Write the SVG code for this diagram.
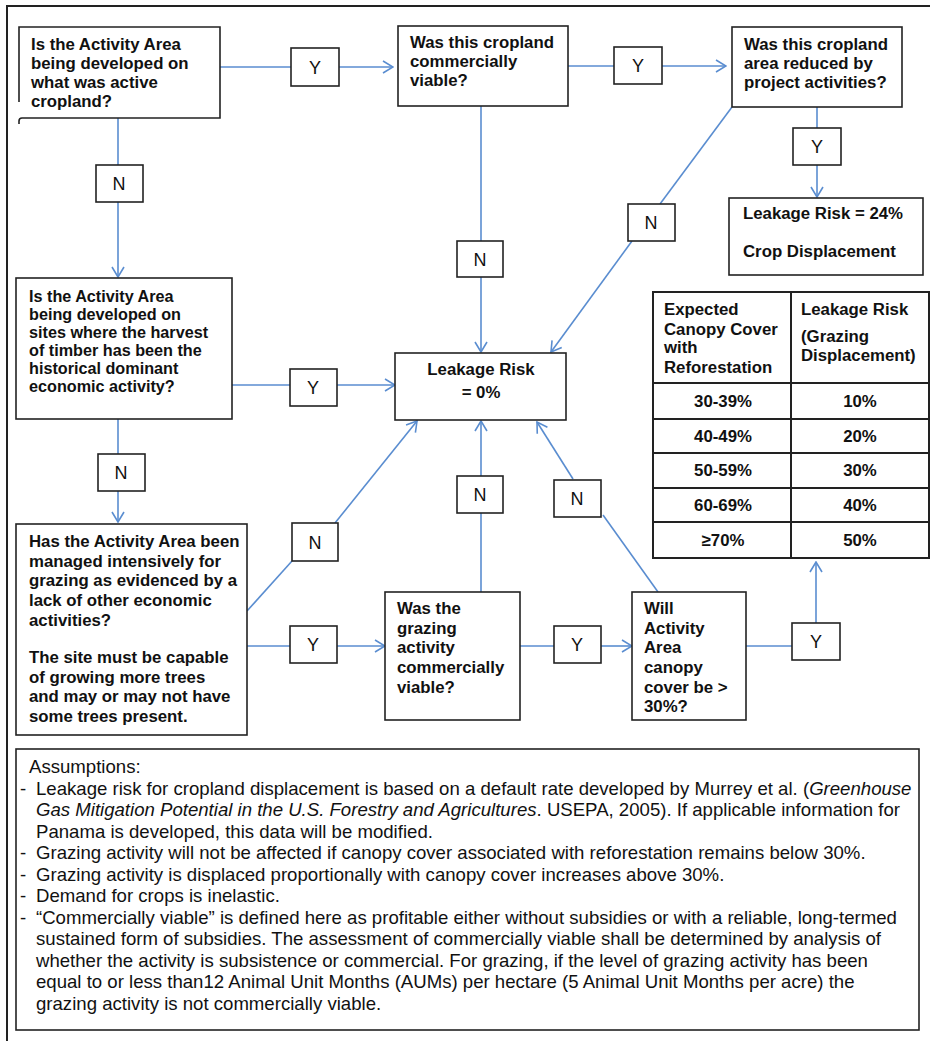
<svg xmlns="http://www.w3.org/2000/svg" width="930" height="1041" viewBox="0 0 930 1041">
<defs>
<style>
.box{fill:#fff;stroke:#222;stroke-width:1.6}
.lbl{fill:#fff;stroke:#222;stroke-width:1.6}
.t{font-family:"Liberation Sans",Arial,sans-serif;font-weight:bold;font-size:16.8px;fill:#111}
.t16{font-family:"Liberation Sans",Arial,sans-serif;font-weight:bold;font-size:16.2px;fill:#111}
.yn{font-family:"Liberation Sans",Arial,sans-serif;font-size:18px;fill:#111;text-anchor:middle}
.c{fill:none;stroke:#5a8dd0;stroke-width:1.6}
.a{font-family:"Liberation Sans",Arial,sans-serif;font-size:18.6px;fill:#111}
.tb{fill:none;stroke:#222;stroke-width:2}
.mid{text-anchor:middle}
</style>
<marker id="arr" viewBox="0 0 12 14" refX="11" refY="7" markerWidth="12" markerHeight="14" markerUnits="userSpaceOnUse" orient="auto">
<path d="M1,1 L11,7 L1,13" fill="none" stroke="#5a8dd0" stroke-width="1.6"/>
</marker>
</defs>
<rect width="930" height="1041" fill="#fff"/>
<path d="M7,1041 V6 H930" fill="none" stroke="#222" stroke-width="2"/>

<g id="connectors">
<line class="c" x1="220" y1="67" x2="291" y2="67"/>
<line class="c" x1="339" y1="67" x2="393" y2="67" marker-end="url(#arr)"/>
<line class="c" x1="568" y1="66" x2="614" y2="66"/>
<line class="c" x1="662" y1="66" x2="726" y2="66" marker-end="url(#arr)"/>
<line class="c" x1="817" y1="107" x2="817" y2="128"/>
<line class="c" x1="817" y1="165" x2="817" y2="197" marker-end="url(#arr)"/>
<line class="c" x1="481" y1="106" x2="481" y2="241"/>
<line class="c" x1="481" y1="277" x2="481" y2="352" marker-end="url(#arr)"/>
<line class="c" x1="732" y1="107" x2="660" y2="204"/>
<line class="c" x1="632" y1="241" x2="551" y2="352" marker-end="url(#arr)"/>
<line class="c" x1="118" y1="118" x2="118" y2="165"/>
<line class="c" x1="118" y1="202" x2="118" y2="277" marker-end="url(#arr)"/>
<line class="c" x1="232" y1="385" x2="290" y2="385"/>
<line class="c" x1="337" y1="385" x2="395" y2="385" marker-end="url(#arr)"/>
<line class="c" x1="118" y1="419" x2="118" y2="454"/>
<line class="c" x1="118" y1="491" x2="118" y2="522" marker-end="url(#arr)"/>
<line class="c" x1="247" y1="611" x2="292" y2="561"/>
<line class="c" x1="335" y1="523" x2="417" y2="421" marker-end="url(#arr)"/>
<line class="c" x1="247" y1="646" x2="290" y2="646"/>
<line class="c" x1="337" y1="646" x2="385" y2="646" marker-end="url(#arr)"/>
<line class="c" x1="481" y1="592" x2="481" y2="513"/>
<line class="c" x1="481" y1="476" x2="481" y2="421" marker-end="url(#arr)"/>
<line class="c" x1="520" y1="646" x2="554" y2="646"/>
<line class="c" x1="601" y1="646" x2="632" y2="646" marker-end="url(#arr)"/>
<line class="c" x1="658" y1="592" x2="603" y2="515"/>
<line class="c" x1="573" y1="479" x2="537" y2="422" marker-end="url(#arr)"/>
<line class="c" x1="746" y1="646" x2="792" y2="646"/>
<line class="c" x1="816" y1="623" x2="816" y2="562" marker-end="url(#arr)"/>
</g>

<g id="q1">
<path d="M19,102 V27 H220 V118 H22 Q19,118 19,121 V124" fill="#fff" stroke="#222" stroke-width="1.6"/>
<text class="t" x="31" y="50">Is the Activity Area</text>
<text class="t" x="31" y="69">being developed on</text>
<text class="t" x="31" y="88">what was active</text>
<text class="t" x="31" y="107">cropland?</text>
</g>
<g id="q2">
<rect class="box" x="398" y="26" width="170" height="80"/>
<text class="t" x="410" y="48">Was this cropland</text>
<text class="t" x="410" y="67">commercially</text>
<text class="t" x="410" y="86">viable?</text>
</g>
<g id="q3">
<rect class="box" x="732" y="27" width="170" height="80"/>
<text class="t" x="744" y="50">Was this cropland</text>
<text class="t" x="744" y="69">area reduced by</text>
<text class="t" x="744" y="88">project activities?</text>
</g>
<g id="r24">
<rect class="box" x="729" y="198" width="194" height="77"/>
<text class="t" x="743" y="219">Leakage Risk = 24%</text>
<text class="t" x="743" y="257">Crop Displacement</text>
</g>
<g id="r0">
<rect class="box" x="395" y="353" width="171" height="67"/>
<text class="t mid" x="481" y="375">Leakage Risk</text>
<text class="t mid" x="481" y="398">= 0%</text>
</g>
<g id="q4">
<rect class="box" x="16" y="278" width="216" height="141"/>
<text class="t16" x="29" y="302">Is the Activity Area</text>
<text class="t16" x="29" y="320">being developed on</text>
<text class="t16" x="29" y="338">sites where the harvest</text>
<text class="t16" x="29" y="356">of timber has been the</text>
<text class="t16" x="29" y="374">historical dominant</text>
<text class="t16" x="29" y="392">economic activity?</text>
</g>
<g id="q5">
<rect class="box" x="16" y="524" width="231" height="211"/>
<text class="t" x="29" y="547">Has the Activity Area been</text>
<text class="t" x="29" y="567">managed intensively for</text>
<text class="t" x="29" y="586">grazing as evidenced by a</text>
<text class="t" x="29" y="606">lack of other economic</text>
<text class="t" x="29" y="626">activities?</text>
<text class="t" x="29" y="663">The site must be capable</text>
<text class="t" x="29" y="683">of growing more trees</text>
<text class="t" x="29" y="702">and may or may not have</text>
<text class="t" x="29" y="722">some trees present.</text>
</g>
<g id="q6">
<rect class="box" x="385" y="592" width="135" height="128"/>
<text class="t" x="397" y="614">Was the</text>
<text class="t" x="397" y="634">grazing</text>
<text class="t" x="397" y="653">activity</text>
<text class="t" x="397" y="673">commercially</text>
<text class="t" x="397" y="693">viable?</text>
</g>
<g id="q7">
<rect class="box" x="632" y="592" width="114" height="128"/>
<text class="t" x="644" y="614">Will</text>
<text class="t" x="644" y="634">Activity</text>
<text class="t" x="644" y="653">Area</text>
<text class="t" x="644" y="673">canopy</text>
<text class="t" x="644" y="693">cover be &gt;</text>
<text class="t" x="644" y="712">30%?</text>
</g>

<g id="table">
<rect x="653" y="292" width="276" height="266" fill="#fff" stroke="#222" stroke-width="2"/>
<line class="tb" x1="791" y1="292" x2="791" y2="558"/>
<line class="tb" x1="653" y1="383" x2="929" y2="383"/>
<line class="tb" x1="653" y1="419" x2="929" y2="419"/>
<line class="tb" x1="653" y1="453" x2="929" y2="453"/>
<line class="tb" x1="653" y1="488" x2="929" y2="488"/>
<line class="tb" x1="653" y1="522" x2="929" y2="522"/>
<text class="t" x="664" y="315">Expected</text>
<text class="t" x="664" y="335">Canopy Cover</text>
<text class="t" x="664" y="353">with</text>
<text class="t" x="664" y="373">Reforestation</text>
<text class="t" x="801" y="315">Leakage Risk</text>
<text class="t" x="801" y="342">(Grazing</text>
<text class="t" x="801" y="361">Displacement)</text>
<text class="t mid" x="723" y="407">30-39%</text>
<text class="t mid" x="860" y="407">10%</text>
<text class="t mid" x="723" y="442">40-49%</text>
<text class="t mid" x="860" y="442">20%</text>
<text class="t mid" x="723" y="476">50-59%</text>
<text class="t mid" x="860" y="476">30%</text>
<text class="t mid" x="723" y="511">60-69%</text>
<text class="t mid" x="860" y="511">40%</text>
<text class="t mid" x="723" y="546">≥70%</text>
<text class="t mid" x="860" y="546">50%</text>
</g>

<g id="labels">
<rect class="lbl" x="291" y="48" width="48" height="38"/><text class="yn" x="315" y="74">Y</text>
<rect class="lbl" x="614" y="47" width="48" height="37"/><text class="yn" x="638" y="72">Y</text>
<rect class="lbl" x="793" y="128" width="48" height="37"/><text class="yn" x="817" y="153">Y</text>
<rect class="lbl" x="457" y="241" width="46" height="36"/><text class="yn" x="480" y="266">N</text>
<rect class="lbl" x="628" y="204" width="47" height="37"/><text class="yn" x="651" y="229">N</text>
<rect class="lbl" x="96" y="165" width="47" height="37"/><text class="yn" x="119" y="190">N</text>
<rect class="lbl" x="290" y="369" width="47" height="37"/><text class="yn" x="313" y="394">Y</text>
<rect class="lbl" x="98" y="454" width="47" height="37"/><text class="yn" x="121" y="479">N</text>
<rect class="lbl" x="292" y="523" width="46" height="38"/><text class="yn" x="315" y="549">N</text>
<rect class="lbl" x="290" y="626" width="47" height="37"/><text class="yn" x="313" y="651">Y</text>
<rect class="lbl" x="457" y="476" width="46" height="37"/><text class="yn" x="480" y="501">N</text>
<rect class="lbl" x="554" y="480" width="47" height="37"/><text class="yn" x="577" y="505">N</text>
<rect class="lbl" x="554" y="626" width="47" height="37"/><text class="yn" x="577" y="651">Y</text>
<rect class="lbl" x="792" y="623" width="48" height="37"/><text class="yn" x="816" y="648">Y</text>
</g>

<g id="assumptions">
<rect x="16" y="749" width="903" height="281" fill="#fff" stroke="#222" stroke-width="1.6"/>
<text class="a" x="29" y="773">Assumptions:</text>
<text class="a" x="20" y="795">-</text>
<text class="a" x="36" y="795">Leakage risk for cropland displacement is based on a default rate developed by Murrey et al. (<tspan font-style="italic">Greenhouse</tspan></text>
<text class="a" x="36" y="816"><tspan font-style="italic">Gas Mitigation Potential in the U.S. Forestry and Agricultures</tspan>. USEPA, 2005). If applicable information for</text>
<text class="a" x="36" y="838">Panama is developed, this data will be modified.</text>
<text class="a" x="20" y="859">-</text>
<text class="a" x="36" y="859">Grazing activity will not be affected if canopy cover associated with reforestation remains below 30%.</text>
<text class="a" x="20" y="881">-</text>
<text class="a" x="36" y="881">Grazing activity is displaced proportionally with canopy cover increases above 30%.</text>
<text class="a" x="20" y="902">-</text>
<text class="a" x="36" y="902">Demand for crops is inelastic.</text>
<text class="a" x="20" y="924">-</text>
<text class="a" x="36" y="924">“Commercially viable” is defined here as profitable either without subsidies or with a reliable, long-termed</text>
<text class="a" x="36" y="945">sustained form of subsidies. The assessment of commercially viable shall be determined by analysis of</text>
<text class="a" x="36" y="967">whether the activity is subsistence or commercial. For grazing, if the level of grazing activity has been</text>
<text class="a" x="36" y="988">equal to or less than12 Animal Unit Months (AUMs) per hectare (5 Animal Unit Months per acre) the</text>
<text class="a" x="36" y="1010">grazing activity is not commercially viable.</text>
</g>
</svg>
